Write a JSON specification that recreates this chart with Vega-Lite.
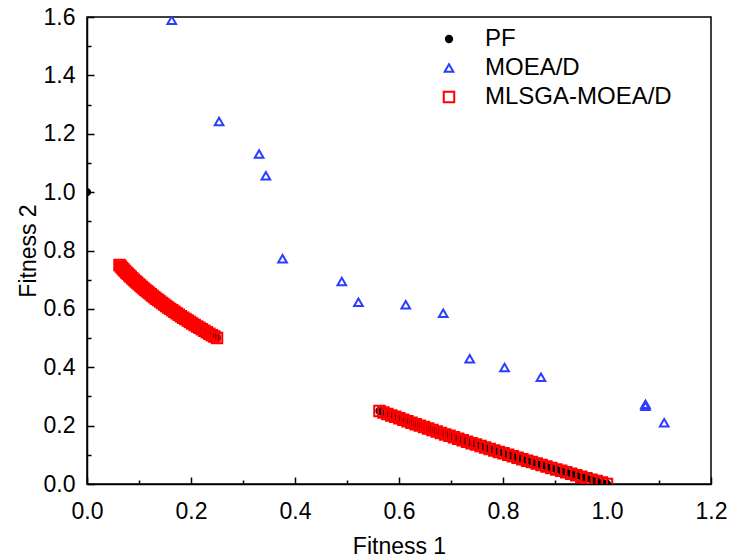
{
  "$schema": "https://vega.github.io/schema/vega-lite/v6.json",
  "width": 624,
  "height": 467,
  "autosize": {"type": "none"},
  "padding": {"left": 87, "top": 17, "right": 19, "bottom": 74},
  "config": {
    "font": "Liberation Sans",
    "view": {"stroke": "#000000", "strokeWidth": 1.5},
    "axis": {
      "domainColor": "#000000",
      "domainWidth": 1.5,
      "tickColor": "#000000",
      "tickWidth": 1.5,
      "grid": false,
      "labelFlush": false,
      "labelColor": "#000000",
      "labelFont": "Liberation Sans",
      "titleColor": "#000000",
      "titleFont": "Liberation Sans",
      "titleFontSize": 23,
      "titleFontWeight": "normal"
    },
    "legend": {
      "labelFont": "Liberation Sans",
      "labelFontSize": 24,
      "labelColor": "#000000",
      "labelLimit": 0
    }
  },
  "data": {
    "values": [
      {"f1": 0.0, "f2": 1.0, "series": "PF"},
      {"f1": 0.0625, "f2": 0.75, "series": "PF"},
      {"f1": 0.065, "f2": 0.745, "series": "PF"},
      {"f1": 0.0676, "f2": 0.74, "series": "PF"},
      {"f1": 0.0702, "f2": 0.735, "series": "PF"},
      {"f1": 0.0729, "f2": 0.73, "series": "PF"},
      {"f1": 0.0756, "f2": 0.725, "series": "PF"},
      {"f1": 0.0784, "f2": 0.72, "series": "PF"},
      {"f1": 0.0812, "f2": 0.715, "series": "PF"},
      {"f1": 0.0841, "f2": 0.71, "series": "PF"},
      {"f1": 0.087, "f2": 0.705, "series": "PF"},
      {"f1": 0.09, "f2": 0.7, "series": "PF"},
      {"f1": 0.093, "f2": 0.695, "series": "PF"},
      {"f1": 0.0961, "f2": 0.69, "series": "PF"},
      {"f1": 0.0992, "f2": 0.685, "series": "PF"},
      {"f1": 0.1024, "f2": 0.68, "series": "PF"},
      {"f1": 0.1056, "f2": 0.675, "series": "PF"},
      {"f1": 0.1089, "f2": 0.67, "series": "PF"},
      {"f1": 0.1122, "f2": 0.665, "series": "PF"},
      {"f1": 0.1156, "f2": 0.66, "series": "PF"},
      {"f1": 0.119, "f2": 0.655, "series": "PF"},
      {"f1": 0.1225, "f2": 0.65, "series": "PF"},
      {"f1": 0.126, "f2": 0.645, "series": "PF"},
      {"f1": 0.1296, "f2": 0.64, "series": "PF"},
      {"f1": 0.1332, "f2": 0.635, "series": "PF"},
      {"f1": 0.1369, "f2": 0.63, "series": "PF"},
      {"f1": 0.1406, "f2": 0.625, "series": "PF"},
      {"f1": 0.1444, "f2": 0.62, "series": "PF"},
      {"f1": 0.1482, "f2": 0.615, "series": "PF"},
      {"f1": 0.1521, "f2": 0.61, "series": "PF"},
      {"f1": 0.156, "f2": 0.605, "series": "PF"},
      {"f1": 0.16, "f2": 0.6, "series": "PF"},
      {"f1": 0.164, "f2": 0.595, "series": "PF"},
      {"f1": 0.1681, "f2": 0.59, "series": "PF"},
      {"f1": 0.1722, "f2": 0.585, "series": "PF"},
      {"f1": 0.1764, "f2": 0.58, "series": "PF"},
      {"f1": 0.1806, "f2": 0.575, "series": "PF"},
      {"f1": 0.1849, "f2": 0.57, "series": "PF"},
      {"f1": 0.1892, "f2": 0.565, "series": "PF"},
      {"f1": 0.1936, "f2": 0.56, "series": "PF"},
      {"f1": 0.198, "f2": 0.555, "series": "PF"},
      {"f1": 0.2025, "f2": 0.55, "series": "PF"},
      {"f1": 0.207, "f2": 0.545, "series": "PF"},
      {"f1": 0.2116, "f2": 0.54, "series": "PF"},
      {"f1": 0.2162, "f2": 0.535, "series": "PF"},
      {"f1": 0.2209, "f2": 0.53, "series": "PF"},
      {"f1": 0.2256, "f2": 0.525, "series": "PF"},
      {"f1": 0.2304, "f2": 0.52, "series": "PF"},
      {"f1": 0.2352, "f2": 0.515, "series": "PF"},
      {"f1": 0.2401, "f2": 0.51, "series": "PF"},
      {"f1": 0.245, "f2": 0.505, "series": "PF"},
      {"f1": 0.25, "f2": 0.5, "series": "PF"},
      {"f1": 0.5625, "f2": 0.25, "series": "PF"},
      {"f1": 0.57, "f2": 0.245, "series": "PF"},
      {"f1": 0.5776, "f2": 0.24, "series": "PF"},
      {"f1": 0.5852, "f2": 0.235, "series": "PF"},
      {"f1": 0.5929, "f2": 0.23, "series": "PF"},
      {"f1": 0.6006, "f2": 0.225, "series": "PF"},
      {"f1": 0.6084, "f2": 0.22, "series": "PF"},
      {"f1": 0.6162, "f2": 0.215, "series": "PF"},
      {"f1": 0.6241, "f2": 0.21, "series": "PF"},
      {"f1": 0.632, "f2": 0.205, "series": "PF"},
      {"f1": 0.64, "f2": 0.2, "series": "PF"},
      {"f1": 0.648, "f2": 0.195, "series": "PF"},
      {"f1": 0.6561, "f2": 0.19, "series": "PF"},
      {"f1": 0.6642, "f2": 0.185, "series": "PF"},
      {"f1": 0.6724, "f2": 0.18, "series": "PF"},
      {"f1": 0.6806, "f2": 0.175, "series": "PF"},
      {"f1": 0.6889, "f2": 0.17, "series": "PF"},
      {"f1": 0.6972, "f2": 0.165, "series": "PF"},
      {"f1": 0.7056, "f2": 0.16, "series": "PF"},
      {"f1": 0.714, "f2": 0.155, "series": "PF"},
      {"f1": 0.7225, "f2": 0.15, "series": "PF"},
      {"f1": 0.731, "f2": 0.145, "series": "PF"},
      {"f1": 0.7396, "f2": 0.14, "series": "PF"},
      {"f1": 0.7482, "f2": 0.135, "series": "PF"},
      {"f1": 0.7569, "f2": 0.13, "series": "PF"},
      {"f1": 0.7656, "f2": 0.125, "series": "PF"},
      {"f1": 0.7744, "f2": 0.12, "series": "PF"},
      {"f1": 0.7832, "f2": 0.115, "series": "PF"},
      {"f1": 0.7921, "f2": 0.11, "series": "PF"},
      {"f1": 0.801, "f2": 0.105, "series": "PF"},
      {"f1": 0.81, "f2": 0.1, "series": "PF"},
      {"f1": 0.819, "f2": 0.095, "series": "PF"},
      {"f1": 0.8281, "f2": 0.09, "series": "PF"},
      {"f1": 0.8372, "f2": 0.085, "series": "PF"},
      {"f1": 0.8464, "f2": 0.08, "series": "PF"},
      {"f1": 0.8556, "f2": 0.075, "series": "PF"},
      {"f1": 0.8649, "f2": 0.07, "series": "PF"},
      {"f1": 0.8742, "f2": 0.065, "series": "PF"},
      {"f1": 0.8836, "f2": 0.06, "series": "PF"},
      {"f1": 0.893, "f2": 0.055, "series": "PF"},
      {"f1": 0.9025, "f2": 0.05, "series": "PF"},
      {"f1": 0.912, "f2": 0.045, "series": "PF"},
      {"f1": 0.9216, "f2": 0.04, "series": "PF"},
      {"f1": 0.9312, "f2": 0.035, "series": "PF"},
      {"f1": 0.9409, "f2": 0.03, "series": "PF"},
      {"f1": 0.9506, "f2": 0.025, "series": "PF"},
      {"f1": 0.9604, "f2": 0.02, "series": "PF"},
      {"f1": 0.9702, "f2": 0.015, "series": "PF"},
      {"f1": 0.9801, "f2": 0.01, "series": "PF"},
      {"f1": 0.99, "f2": 0.005, "series": "PF"},
      {"f1": 1.0, "f2": 0.0, "series": "PF"},

      {"f1": 0.163, "f2": 1.589, "series": "MOEA/D"},
      {"f1": 0.254, "f2": 1.242, "series": "MOEA/D"},
      {"f1": 0.331, "f2": 1.131, "series": "MOEA/D"},
      {"f1": 0.344, "f2": 1.056, "series": "MOEA/D"},
      {"f1": 0.376, "f2": 0.772, "series": "MOEA/D"},
      {"f1": 0.49, "f2": 0.694, "series": "MOEA/D"},
      {"f1": 0.522, "f2": 0.623, "series": "MOEA/D"},
      {"f1": 0.613, "f2": 0.614, "series": "MOEA/D"},
      {"f1": 0.685, "f2": 0.585, "series": "MOEA/D"},
      {"f1": 0.736, "f2": 0.429, "series": "MOEA/D"},
      {"f1": 0.803, "f2": 0.399, "series": "MOEA/D"},
      {"f1": 0.873, "f2": 0.366, "series": "MOEA/D"},
      {"f1": 1.074, "f2": 0.273, "series": "MOEA/D"},
      {"f1": 1.074, "f2": 0.266, "series": "MOEA/D"},
      {"f1": 1.11, "f2": 0.21, "series": "MOEA/D"},

      {"f1": 0.0625, "f2": 0.75, "series": "MLSGA-MOEA/D"},
      {"f1": 0.065, "f2": 0.745, "series": "MLSGA-MOEA/D"},
      {"f1": 0.0676, "f2": 0.74, "series": "MLSGA-MOEA/D"},
      {"f1": 0.0702, "f2": 0.735, "series": "MLSGA-MOEA/D"},
      {"f1": 0.0729, "f2": 0.73, "series": "MLSGA-MOEA/D"},
      {"f1": 0.0756, "f2": 0.725, "series": "MLSGA-MOEA/D"},
      {"f1": 0.0784, "f2": 0.72, "series": "MLSGA-MOEA/D"},
      {"f1": 0.0812, "f2": 0.715, "series": "MLSGA-MOEA/D"},
      {"f1": 0.0841, "f2": 0.71, "series": "MLSGA-MOEA/D"},
      {"f1": 0.087, "f2": 0.705, "series": "MLSGA-MOEA/D"},
      {"f1": 0.09, "f2": 0.7, "series": "MLSGA-MOEA/D"},
      {"f1": 0.093, "f2": 0.695, "series": "MLSGA-MOEA/D"},
      {"f1": 0.0961, "f2": 0.69, "series": "MLSGA-MOEA/D"},
      {"f1": 0.0992, "f2": 0.685, "series": "MLSGA-MOEA/D"},
      {"f1": 0.1024, "f2": 0.68, "series": "MLSGA-MOEA/D"},
      {"f1": 0.1056, "f2": 0.675, "series": "MLSGA-MOEA/D"},
      {"f1": 0.1089, "f2": 0.67, "series": "MLSGA-MOEA/D"},
      {"f1": 0.1122, "f2": 0.665, "series": "MLSGA-MOEA/D"},
      {"f1": 0.1156, "f2": 0.66, "series": "MLSGA-MOEA/D"},
      {"f1": 0.119, "f2": 0.655, "series": "MLSGA-MOEA/D"},
      {"f1": 0.1225, "f2": 0.65, "series": "MLSGA-MOEA/D"},
      {"f1": 0.126, "f2": 0.645, "series": "MLSGA-MOEA/D"},
      {"f1": 0.1296, "f2": 0.64, "series": "MLSGA-MOEA/D"},
      {"f1": 0.1332, "f2": 0.635, "series": "MLSGA-MOEA/D"},
      {"f1": 0.1369, "f2": 0.63, "series": "MLSGA-MOEA/D"},
      {"f1": 0.1406, "f2": 0.625, "series": "MLSGA-MOEA/D"},
      {"f1": 0.1444, "f2": 0.62, "series": "MLSGA-MOEA/D"},
      {"f1": 0.1482, "f2": 0.615, "series": "MLSGA-MOEA/D"},
      {"f1": 0.1521, "f2": 0.61, "series": "MLSGA-MOEA/D"},
      {"f1": 0.156, "f2": 0.605, "series": "MLSGA-MOEA/D"},
      {"f1": 0.16, "f2": 0.6, "series": "MLSGA-MOEA/D"},
      {"f1": 0.164, "f2": 0.595, "series": "MLSGA-MOEA/D"},
      {"f1": 0.1681, "f2": 0.59, "series": "MLSGA-MOEA/D"},
      {"f1": 0.1722, "f2": 0.585, "series": "MLSGA-MOEA/D"},
      {"f1": 0.1764, "f2": 0.58, "series": "MLSGA-MOEA/D"},
      {"f1": 0.1806, "f2": 0.575, "series": "MLSGA-MOEA/D"},
      {"f1": 0.1849, "f2": 0.57, "series": "MLSGA-MOEA/D"},
      {"f1": 0.1892, "f2": 0.565, "series": "MLSGA-MOEA/D"},
      {"f1": 0.1936, "f2": 0.56, "series": "MLSGA-MOEA/D"},
      {"f1": 0.198, "f2": 0.555, "series": "MLSGA-MOEA/D"},
      {"f1": 0.2025, "f2": 0.55, "series": "MLSGA-MOEA/D"},
      {"f1": 0.207, "f2": 0.545, "series": "MLSGA-MOEA/D"},
      {"f1": 0.2116, "f2": 0.54, "series": "MLSGA-MOEA/D"},
      {"f1": 0.2162, "f2": 0.535, "series": "MLSGA-MOEA/D"},
      {"f1": 0.2209, "f2": 0.53, "series": "MLSGA-MOEA/D"},
      {"f1": 0.2256, "f2": 0.525, "series": "MLSGA-MOEA/D"},
      {"f1": 0.2304, "f2": 0.52, "series": "MLSGA-MOEA/D"},
      {"f1": 0.2352, "f2": 0.515, "series": "MLSGA-MOEA/D"},
      {"f1": 0.2401, "f2": 0.51, "series": "MLSGA-MOEA/D"},
      {"f1": 0.245, "f2": 0.505, "series": "MLSGA-MOEA/D"},
      {"f1": 0.25, "f2": 0.5, "series": "MLSGA-MOEA/D"},
      {"f1": 0.5625, "f2": 0.25, "series": "MLSGA-MOEA/D"},
      {"f1": 0.57, "f2": 0.245, "series": "MLSGA-MOEA/D"},
      {"f1": 0.5776, "f2": 0.24, "series": "MLSGA-MOEA/D"},
      {"f1": 0.5852, "f2": 0.235, "series": "MLSGA-MOEA/D"},
      {"f1": 0.5929, "f2": 0.23, "series": "MLSGA-MOEA/D"},
      {"f1": 0.6006, "f2": 0.225, "series": "MLSGA-MOEA/D"},
      {"f1": 0.6084, "f2": 0.22, "series": "MLSGA-MOEA/D"},
      {"f1": 0.6162, "f2": 0.215, "series": "MLSGA-MOEA/D"},
      {"f1": 0.6241, "f2": 0.21, "series": "MLSGA-MOEA/D"},
      {"f1": 0.632, "f2": 0.205, "series": "MLSGA-MOEA/D"},
      {"f1": 0.64, "f2": 0.2, "series": "MLSGA-MOEA/D"},
      {"f1": 0.648, "f2": 0.195, "series": "MLSGA-MOEA/D"},
      {"f1": 0.6561, "f2": 0.19, "series": "MLSGA-MOEA/D"},
      {"f1": 0.6642, "f2": 0.185, "series": "MLSGA-MOEA/D"},
      {"f1": 0.6724, "f2": 0.18, "series": "MLSGA-MOEA/D"},
      {"f1": 0.6806, "f2": 0.175, "series": "MLSGA-MOEA/D"},
      {"f1": 0.6889, "f2": 0.17, "series": "MLSGA-MOEA/D"},
      {"f1": 0.6972, "f2": 0.165, "series": "MLSGA-MOEA/D"},
      {"f1": 0.7056, "f2": 0.16, "series": "MLSGA-MOEA/D"},
      {"f1": 0.714, "f2": 0.155, "series": "MLSGA-MOEA/D"},
      {"f1": 0.7225, "f2": 0.15, "series": "MLSGA-MOEA/D"},
      {"f1": 0.731, "f2": 0.145, "series": "MLSGA-MOEA/D"},
      {"f1": 0.7396, "f2": 0.14, "series": "MLSGA-MOEA/D"},
      {"f1": 0.7482, "f2": 0.135, "series": "MLSGA-MOEA/D"},
      {"f1": 0.7569, "f2": 0.13, "series": "MLSGA-MOEA/D"},
      {"f1": 0.7656, "f2": 0.125, "series": "MLSGA-MOEA/D"},
      {"f1": 0.7744, "f2": 0.12, "series": "MLSGA-MOEA/D"},
      {"f1": 0.7832, "f2": 0.115, "series": "MLSGA-MOEA/D"},
      {"f1": 0.7921, "f2": 0.11, "series": "MLSGA-MOEA/D"},
      {"f1": 0.801, "f2": 0.105, "series": "MLSGA-MOEA/D"},
      {"f1": 0.81, "f2": 0.1, "series": "MLSGA-MOEA/D"},
      {"f1": 0.819, "f2": 0.095, "series": "MLSGA-MOEA/D"},
      {"f1": 0.8281, "f2": 0.09, "series": "MLSGA-MOEA/D"},
      {"f1": 0.8372, "f2": 0.085, "series": "MLSGA-MOEA/D"},
      {"f1": 0.8464, "f2": 0.08, "series": "MLSGA-MOEA/D"},
      {"f1": 0.8556, "f2": 0.075, "series": "MLSGA-MOEA/D"},
      {"f1": 0.8649, "f2": 0.07, "series": "MLSGA-MOEA/D"},
      {"f1": 0.8742, "f2": 0.065, "series": "MLSGA-MOEA/D"},
      {"f1": 0.8836, "f2": 0.06, "series": "MLSGA-MOEA/D"},
      {"f1": 0.893, "f2": 0.055, "series": "MLSGA-MOEA/D"},
      {"f1": 0.9025, "f2": 0.05, "series": "MLSGA-MOEA/D"},
      {"f1": 0.912, "f2": 0.045, "series": "MLSGA-MOEA/D"},
      {"f1": 0.9216, "f2": 0.04, "series": "MLSGA-MOEA/D"},
      {"f1": 0.9312, "f2": 0.035, "series": "MLSGA-MOEA/D"},
      {"f1": 0.9409, "f2": 0.03, "series": "MLSGA-MOEA/D"},
      {"f1": 0.9506, "f2": 0.025, "series": "MLSGA-MOEA/D"},
      {"f1": 0.9604, "f2": 0.02, "series": "MLSGA-MOEA/D"},
      {"f1": 0.9702, "f2": 0.015, "series": "MLSGA-MOEA/D"},
      {"f1": 0.9801, "f2": 0.01, "series": "MLSGA-MOEA/D"},
      {"f1": 0.99, "f2": 0.005, "series": "MLSGA-MOEA/D"},
      {"f1": 1.0, "f2": 0.0, "series": "MLSGA-MOEA/D"}
    ]
  },
  "layer": [
    {
      "mark": {"type": "point", "clip": true, "strokeWidth": 2, "opacity": 1},
      "encoding": {
        "x": {
          "field": "f1", "type": "quantitative",
          "scale": {"domain": [0, 1.2], "nice": false, "zero": true},
          "axis": {
            "title": "Fitness 1",
            "values": [0, 0.2, 0.4, 0.6, 0.8, 1.0, 1.2],
            "format": ".1f",
            "tickSize": -7,
            "labelFontSize": 23,
            "labelPadding": 23,
            "titlePadding": 12
          }
        },
        "y": {
          "field": "f2", "type": "quantitative",
          "scale": {"domain": [0, 1.6], "nice": false, "zero": true},
          "axis": {
            "title": "Fitness 2",
            "values": [0, 0.2, 0.4, 0.6, 0.8, 1.0, 1.2, 1.4, 1.6],
            "format": ".1f",
            "tickSize": -7,
            "labelFontSize": 23,
            "labelPadding": 19,
            "titlePadding": 3
          }
        },
        "shape": {
          "field": "series", "type": "nominal",
          "scale": {"domain": ["PF", "MOEA/D", "MLSGA-MOEA/D"], "range": ["circle", "triangle-up", "square"]},
          "legend": {
            "title": null,
            "orient": "none",
            "legendX": 350,
            "legendY": 10,
            "rowPadding": 5,
            "labelOffset": 24,
            "symbolStrokeWidth": 2
          }
        },
        "stroke": {
          "field": "series", "type": "nominal",
          "scale": {"domain": ["PF", "MOEA/D", "MLSGA-MOEA/D"], "range": ["#000000", "#2b3dff", "#ff0000"]}
        },
        "fill": {
          "field": "series", "type": "nominal",
          "scale": {"domain": ["PF", "MOEA/D", "MLSGA-MOEA/D"], "range": ["#000000", "transparent", "transparent"]}
        },
        "size": {
          "field": "series", "type": "nominal",
          "scale": {"domain": ["PF", "MOEA/D", "MLSGA-MOEA/D"], "range": [40, 110, 38]}
        }
      }
    },
    {
      "mark": {"type": "point", "opacity": 0},
      "encoding": {
        "x": {
          "field": "f1", "type": "quantitative",
          "axis": {
            "orient": "bottom",
            "title": null,
            "values": [0.1, 0.3, 0.5, 0.7, 0.9, 1.1],
            "labels": false,
            "domain": false,
            "tickSize": -4
          }
        },
        "y": {
          "field": "f2", "type": "quantitative",
          "axis": {
            "orient": "left",
            "title": null,
            "values": [0.1, 0.3, 0.5, 0.7, 0.9, 1.1, 1.3, 1.5],
            "labels": false,
            "domain": false,
            "tickSize": -4
          }
        }
      }
    }
  ],
  "resolve": {"axis": {"x": "independent", "y": "independent"}}
}
